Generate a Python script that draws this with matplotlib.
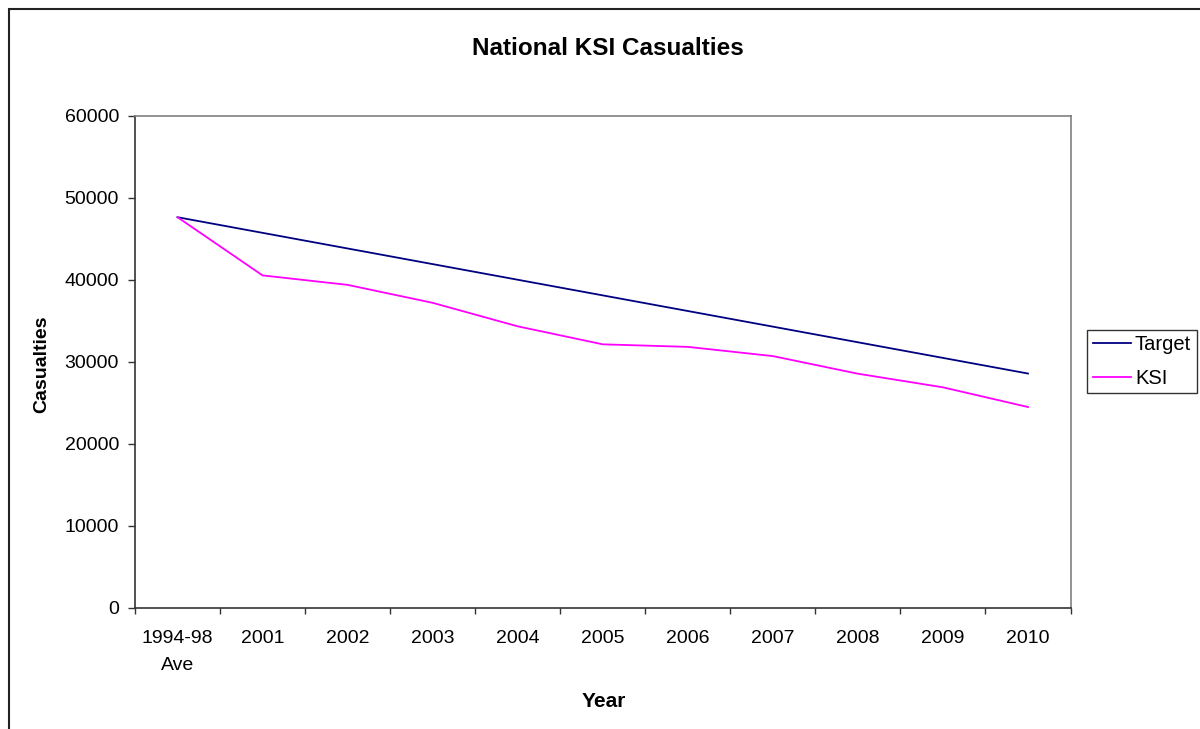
import numpy as np
import matplotlib.pyplot as plt
from matplotlib.patches import Rectangle

plt.rcParams['font.family'] = ['Liberation Sans', 'DejaVu Sans']

categories = ['1994-98\nAve', '2001', '2002', '2003', '2004', '2005',
              '2006', '2007', '2008', '2009', '2010']
target = [47656, 45750, 43844, 41938, 40032, 38125,
          36219, 34313, 32406, 30500, 28594]
ksi = [47656, 40560, 39407, 37215, 34351, 32155,
       31845, 30720, 28572, 26912, 24510]
y_ticks = [0, 10000, 20000, 30000, 40000, 50000, 60000]

W, H = 1200, 729
fig = plt.figure(figsize=(12, 7.29), dpi=100)
ax = fig.add_axes([135 / W, 121 / H, 935.5 / W, 492 / H])

x = np.arange(len(categories))
ax.plot(x, target, color='#000080', lw=1.3, label='Target')
ax.plot(x, ksi, color='#FF00FF', lw=1.3, label='KSI')

ax.set_xlim(-0.5, len(categories) - 0.5)
ax.set_ylim(0, 60000)
ax.set_yticks(y_ticks)
ax.set_yticklabels([str(v) for v in y_ticks], fontsize=14)

# boundaries get tick marks, centres get the labels
ax.set_xticks(np.arange(len(categories) + 1) - 0.5)
ax.set_xticklabels([])
ax.set_xticks(x, minor=True)
ax.set_xticklabels(categories, minor=True, fontsize=14, linespacing=1.75)
ax.tick_params(axis='x', which='minor', length=0, pad=16)
ax.tick_params(axis='x', which='major', length=4.5, width=1, color='#333333')
ax.tick_params(axis='y', length=5, width=1, color='#333333', pad=6.5)

for side in ['top', 'right']:
    ax.spines[side].set_color('#808080')
for side in ['left', 'bottom']:
    ax.spines[side].set_color('#333333')
for s in ax.spines.values():
    s.set_linewidth(1.2)

fig.text(608 / W, 1 - 55 / H, 'National KSI Casualties', fontsize=17.5,
         fontweight='bold', ha='center', va='baseline')
fig.text(604 / W, 1 - 707 / H, 'Year', fontsize=15, fontweight='bold',
         ha='center', va='baseline')
fig.text(42 / W, 1 - 364.5 / H, 'Casualties', fontsize=14, fontweight='bold',
         ha='center', va='center', rotation=90)

leg = ax.legend(loc='center left', bbox_to_anchor=(1.0176, 0.501), fontsize=14.5,
                frameon=True, fancybox=False, edgecolor='black',
                handlelength=1.9, handletextpad=0.2, borderpad=0.28,
                labelspacing=0.7, borderaxespad=0)
leg.get_frame().set_linewidth(1.0)

# outer chart border (runs off the right and bottom of the image)
fig.patches.append(Rectangle((8.5 / W, -0.1), 1.2, 1 - 9 / H + 0.1,
                             transform=fig.transFigure, fill=False,
                             edgecolor='#222222', lw=1.5))

fig.savefig('out.png', dpi=100)
